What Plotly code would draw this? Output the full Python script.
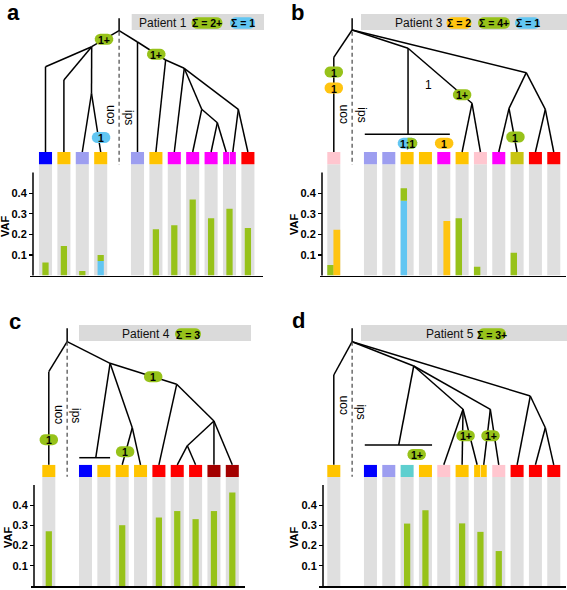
import numpy as np
import plotly.graph_objects as go

W, H = 567, 590
FONT = "Liberation Sans, Arial, sans-serif"
GREEN = "#97c21a"
BLUE = "#62c6f2"
ORANGE = "#ffc410"
GRAYCOL = "#dfdfdf"
BOXGRAY = "#dadada"
SQ = {"blue": "#0000ff", "orange": "#ffc400", "lav": "#9d9ef0", "mag": "#ff00ff",
      "red": "#ff0000", "pink": "#ffc6cf", "olive": "#c9c512", "teal": "#5ecfcf",
      "dred": "#a30000"}

# ---------------- data ----------------
a_cols = [0, 1, 2, 3, 5, 6, 7, 8, 9, 10, 11]
a_squares = ["blue", "orange", "lav", "orange", "lav", "orange", "mag", "mag", "mag", "mag", "red"]
a_split = [10]
a_green = [0.063, 0.144, 0.022, 0.100, 0, 0.225, 0.244, 0.370, 0.278, 0.325, 0.231]
a_blue = [0, 0, 0, 0.071, 0, 0, 0, 0, 0, 0, 0]

b_cols = [0, 2, 3, 4, 5, 6, 7, 8, 9, 10, 11, 12]
b_squares = ["pink", "lav", "lav", "orange", "orange", "mag", "orange", "pink", "mag", "olive", "red", "red"]
b_split = []
b_green = [0.051, 0, 0, 0.424, 0, 0, 0.278, 0.043, 0, 0.111, 0, 0]
b_blue = [0, 0, 0, 0.363, 0, 0, 0, 0, 0, 0, 0, 0]
b_orange = [0.222, 0, 0, 0, 0, 0.265, 0, 0, 0, 0, 0, 0]

c_cols = [0, 2, 3, 4, 5, 6, 7, 8, 9, 10]
c_squares = ["orange", "blue", "orange", "orange", "orange", "red", "red", "red", "dred", "dred"]
c_split = []
c_green = [0.271, 0, 0, 0.301, 0, 0.339, 0.371, 0.331, 0.371, 0.463]

d_cols = [0, 2, 3, 4, 5, 6, 7, 8, 9, 10, 11, 12]
d_squares = ["orange", "blue", "lav", "teal", "orange", "pink", "orange", "orange", "pink", "red", "red", "red"]
d_split = [8]
d_green = [0, 0, 0, 0.309, 0.375, 0, 0.310, 0.268, 0.173, 0, 0, 0]

yticks = [0.1, 0.2, 0.3, 0.4]
ytick_labels = ["0.1", "0.2", "0.3", "0.4"]

# trees: internal nodes (column, pixel height); numeric edge ends are leaves (column)
a_nodes = {"top": (4, 18.3), "R": (4, 30.7), "L1": (2.51, 46.7), "e0": (0, 66.7), "e1": (1, 80),
           "L2": (2.5, 93.3), "R0": (5, 42), "R1": (6.53, 60), "R2": (7.54, 68.3),
           "R3": (8.49, 109.3), "R5": (9.34, 122.7), "R4": (10.48, 109.3)}
a_edges = [("top", "R"), ("R", "L1"), ("L1", "e0"), ("e0", 0), ("L1", "e1"), ("e1", 1), ("L1", "L2"),
           ("L2", 2), ("L2", 3), ("R", "R0"), ("R0", 5), ("R0", "R1"), ("R1", 6), ("R1", "R2"),
           ("R2", 7), ("R2", "R3"), ("R2", "R4"), ("R3", 8), ("R3", "R5"), ("R5", 9), ("R5", 9.82),
           ("R4", 10.18), ("R4", 11)]
b_nodes = {"top": (1, 18.3), "R": (1, 30), "eL": (0, 57.3), "B1": (4.05, 48.3), "HB": (4.05, 134.3),
           "HBl": (1.69, 134.3), "HBr": (6.33, 134.3), "B3": (7.54, 103.3), "B2": (10.5, 72.7),
           "B4": (9.56, 108.3), "B5": (11.54, 109.3)}
b_edges = [("top", "R"), ("R", "eL"), ("eL", 0), ("R", "B1"), ("B1", "HB"), ("HBl", "HBr"),
           ("B1", "B3"), ("B3", 7), ("B3", 8), ("R", "B2"), ("B2", "B4"), ("B2", "B5"),
           ("B4", 9), ("B4", 10), ("B5", 11), ("B5", 12)]
c_nodes = {"top": (1, 328.3), "R": (1, 341.7), "eL": (0, 371.7), "C1": (3.34, 363.3),
           "HB": (2.56, 457.7), "HBl": (1.66, 457.7), "HBr": (3.34, 457.7), "C3": (4.55, 427.7),
           "C2": (6.97, 384.3), "C4": (9.0, 421), "C5": (7.55, 445.7)}
c_edges = [("top", "R"), ("R", "eL"), ("eL", 0), ("R", "C1"), ("C1", "HB"), ("HBl", "HBr"),
           ("C1", "C3"), ("C3", 4), ("C3", 5), ("C1", "C2"), ("C2", 6), ("C2", "C4"),
           ("C4", "C5"), ("C4", 9), ("C4", 10), ("C5", 7), ("C5", 8)]
d_nodes = {"top": (1, 328.3), "R": (1, 341.7), "eL": (0, 375), "D1": (4.36, 366), "D2": (10.72, 396),
           "HB": (3.54, 445), "HBl": (1.69, 445), "HBr": (5.36, 445), "D3": (7.05, 409.3),
           "D4": (8.54, 409.3), "D5": (11.54, 427.7)}
d_edges = [("top", "R"), ("R", "eL"), ("eL", 0), ("R", "D1"), ("R", "D2"), ("D1", "HB"), ("HBl", "HBr"),
           ("D1", "D3"), ("D1", "D4"), ("D3", 6), ("D3", 7), ("D3", 7.82), ("D4", 8.18), ("D4", 9),
           ("D2", 10), ("D2", "D5"), ("D5", 11), ("D5", 12)]

# badges on the trees: (column, height, text, colour)
a_badges = [(3.18, 39.3, "1+", "G"), (6.02, 54.2, "1+", "G"), (3.02, 137.5, "1", "B")]
b_badges = [(0, 72, "1", "G"), (0, 88, "1", "O"), (4.02, 143.3, "1;1", "BG"), (6.02, 143.3, "1", "O"),
            (7.0, 94.7, "1+", "G"), (9.91, 137, "1", "G")]
c_badges = [(0, 439.7, "1", "G"), (5.69, 376.7, "1", "G"), (4.16, 451.7, "1", "G")]
d_badges = [(4.52, 454.5, "1+", "G"), (7.19, 435.8, "1+", "G"), (8.55, 435.8, "1+", "G")]

patients = ["Patient 1", "Patient 3", "Patient 4", "Patient 5"]
patient_badges = [[("Σ = 2+", "G"), ("Σ = 1", "B")],
                  [("Σ = 2", "O"), ("Σ = 4+", "G"), ("Σ = 1", "B")],
                  [("Σ = 3", "G")],
                  [("Σ = 3+", "G")]]

# ---------------- layout geometry ----------------
PANELS = [
    dict(name="a", xpx=(30, 263), c0=45.5, sp=18.4, row=0, ypos=33, dash=(4, 31.7, 165),
         con=(3.53, 115), ips=(4.54, 117), vaf=(5, 227), letter=(13, 13),
         box=(131.7, 264, 14, 30), ptext=163, pb=[207, 242.5], pbw=[31, 25]),
    dict(name="b", xpx=(320, 566), c0=333.8, sp=18.33, row=0, ypos=322, dash=(1, 31.7, 165),
         con=(0.5, 114), ips=(1.52, 115), vaf=(294, 225), letter=(297, 13),
         box=(361, 567, 14, 30), ptext=419, pb=[459, 494, 527.5], pbw=[25, 32, 25]),
    dict(name="c", xpx=(31, 245), c0=48.8, sp=18.35, row=1, ypos=34, dash=(1, 341.7, 476.7),
         con=(0.52, 415), ips=(1.52, 415.7), vaf=(8, 538), letter=(15, 322),
         box=(79, 251, 325, 341), ptext=146, pb=[188], pbw=[26]),
    dict(name="d", xpx=(319, 566), c0=333.8, sp=18.33, row=1, ypos=323, dash=(1, 341.7, 476.7),
         con=(0.5, 405), ips=(1.5, 411.7), vaf=(294, 538), letter=(298, 320),
         box=(361, 567, 325, 341), ptext=450, pb=[492], pbw=[28]),
]
ROWS = [dict(zero=275.6, top=152.0, tree=(0, 295)), dict(zero=586.0, top=464.8, tree=(295, 590))]

COLS = [a_cols, b_cols, c_cols, d_cols]
SQUARES = [a_squares, b_squares, c_squares, d_squares]
SPLITS = [a_split, b_split, c_split, d_split]
NODES = [a_nodes, b_nodes, c_nodes, d_nodes]
EDGES = [a_edges, b_edges, c_edges, d_edges]
BADGES = [a_badges, b_badges, c_badges, d_badges]
BCOL = {"G": GREEN, "B": BLUE, "O": ORANGE}

fig = go.Figure()
shapes, annotations = [], []
layout = {}


def ann(**kw):
    kw.setdefault("xanchor", "center")
    kw.setdefault("yanchor", "middle")
    kw.setdefault("showarrow", False)
    annotations.append(kw)


def pill_pts(w, h, half=None):
    r = h / 2.0
    cx = max(w / 2.0 - r, 0)
    pts = []
    if half == "right":
        pts.append((0, -r))
    else:
        for t in np.linspace(90, 270, 10):
            th = np.radians(t)
            pts.append((-cx + r * np.cos(th), r * np.sin(th)))
    for t in np.linspace(-90, 90, 10):
        th = np.radians(t)
        pts.append((cx + r * np.cos(th), r * np.sin(th)))
    if half == "right":
        pts.append((0, r))
    return pts


def pill_path(xc, yc, w, h, fx, fy, half=None):
    pts = pill_pts(w, h, half)
    return "M " + " L ".join(f"{xc + fx(px):.5f},{yc + fy(py):.5f}" for px, py in pts) + " Z"


for k, P in enumerate(PANELS):
    sfx = "" if k == 0 else str(k + 1)
    xname, yname, tname = f"x{sfx}", f"y{sfx}", f"y{k + 5}"
    R = ROWS[P["row"]]
    x0, x1 = P["xpx"]
    c0, sp = P["c0"], P["sp"]
    layout[f"xaxis{sfx}"] = dict(domain=[x0 / W, x1 / W], range=[(x0 - c0) / sp, (x1 - c0) / sp],
                                 showline=True, linecolor="black", linewidth=1.5, showticklabels=False,
                                 ticks="", showgrid=False, zeroline=False, anchor=yname, fixedrange=True)
    layout[f"yaxis{sfx}"] = dict(domain=[1 - R["zero"] / H, 1 - R["top"] / H], range=[0, 0.6],
                                 anchor="free", position=P["ypos"] / W, tickvals=yticks,
                                 ticktext=ytick_labels, ticks="outside", ticklen=4, tickwidth=1.2,
                                 tickcolor="black", showline=False, showgrid=False, zeroline=False,
                                 tickfont=dict(size=11, family=FONT, color="black", weight="bold"),
                                 fixedrange=True)
    t0, t1 = R["tree"]
    layout[f"yaxis{k + 5}"] = dict(domain=[1 - t1 / H, 1 - t0 / H], range=[t1, t0], visible=False,
                                   anchor=xname, fixedrange=True)

    cols = COLS[k]
    sqc = SQUARES[k]
    split = SPLITS[k]
    n = len(cols)
    # grey columns
    fig.add_trace(go.Bar(x=cols, y=[0.54] * n, width=0.71, marker=dict(color=GRAYCOL, line_width=0),
                         xaxis=xname, yaxis=yname, hoverinfo="skip"))
    # sample squares
    sx = [c for c in cols if c not in split]
    sc = [SQ[col] for c, col in zip(cols, sqc) if c not in split]
    fig.add_trace(go.Bar(x=sx, y=[0.06] * len(sx), base=0.54, width=0.71,
                         marker=dict(color=sc, line_width=0), xaxis=xname, yaxis=yname, hoverinfo="skip"))
    for c, col in zip(cols, sqc):
        if c in split:
            fig.add_trace(go.Bar(x=[c - 0.18, c + 0.18], y=[0.06, 0.06], base=0.54, width=0.33,
                                 marker=dict(color=SQ[col], line_width=0), xaxis=xname, yaxis=yname,
                                 hoverinfo="skip"))
    # VAF bars
    if k == 0:
        blue, green = a_blue, a_green
    elif k == 1:
        blue, green = b_blue, b_green
    elif k == 2:
        blue, green = [0] * n, c_green
    else:
        blue, green = [0] * n, d_green
    boff = -0.355 if k == 1 else None
    bw = 0.35 if k == 1 else 0.34
    bx = [c for c, v in zip(cols, blue) if v > 0]
    by = [v for v in blue if v > 0]
    if bx:
        fig.add_trace(go.Bar(x=bx, y=by, width=bw, offset=boff, marker=dict(color=BLUE, line_width=0),
                             xaxis=xname, yaxis=yname, hoverinfo="skip"))
    gx = [c for c, v in zip(cols, green) if v > 0]
    gb = [b for b, v in zip(blue, green) if v > 0]
    gy = [v - b for b, v in zip(blue, green) if v > 0]
    fig.add_trace(go.Bar(x=gx, y=gy, base=gb, width=bw, offset=boff, marker=dict(color=GREEN, line_width=0),
                         xaxis=xname, yaxis=yname, hoverinfo="skip"))
    if k == 1:
        ox = [c for c, v in zip(cols, b_orange) if v > 0]
        oy = [v for v in b_orange if v > 0]
        fig.add_trace(go.Bar(x=ox, y=oy, width=0.37, offset=-0.02, marker=dict(color=ORANGE, line_width=0),
                             xaxis=xname, yaxis=yname, hoverinfo="skip"))

    # y axis line
    shapes.append(dict(type="line", xref="paper", yref=yname, x0=P["ypos"] / W, x1=P["ypos"] / W,
                       y0=-0.012, y1=0.5, line=dict(color="black", width=1.5)))

    # tree lines
    nodes = NODES[k]
    stop = R["top"]
    lx, ly = [], []
    for p, q in EDGES[k]:
        a = nodes[p] if isinstance(p, str) else (p, stop)
        b = nodes[q] if isinstance(q, str) else (q, stop)
        lx += [a[0], b[0], None]
        ly += [a[1], b[1], None]
    fig.add_trace(go.Scatter(x=lx, y=ly, mode="lines", line=dict(color="black", width=1.5),
                             xaxis=xname, yaxis=tname, hoverinfo="skip", cliponaxis=False))
    # dashed separator
    dc, dy0, dy1 = P["dash"]
    fig.add_trace(go.Scatter(x=[dc, dc], y=[dy0, dy1], mode="lines",
                             line=dict(color="#555555", width=1.3, dash="4px,3px"),
                             xaxis=xname, yaxis=tname, hoverinfo="skip", cliponaxis=False))
    # con / ips (baselines facing the dashed separator)
    for key, ang in (("con", -90), ("ips", 90)):
        cx, cy = P[key]
        ann(x=cx, y=cy, xref=xname, yref=tname, text=key, textangle=ang,
            font=dict(size=12, family=FONT, color="black"))

    # badges on tree
    fx = lambda px, sp=sp: px / sp
    fy = lambda py: py
    for bc, by_, txt, colr in BADGES[k]:
        w = 18.5 if len(txt) <= 2 else 19.5
        if colr == "BG":
            shapes.append(dict(type="path", xref=xname, yref=tname, path=pill_path(bc, by_, w, 11, fx, fy),
                               fillcolor=BLUE, line_width=0))
            shapes.append(dict(type="path", xref=xname, yref=tname,
                               path=pill_path(bc, by_, w, 11, fx, fy, half="right"),
                               fillcolor=GREEN, line_width=0))
        else:
            shapes.append(dict(type="path", xref=xname, yref=tname, path=pill_path(bc, by_, w, 11, fx, fy),
                               fillcolor=BCOL[colr], line_width=0))
        ann(x=bc, y=by_ + 0.5, xref=xname, yref=tname, text=f"<b>{txt}</b>",
            font=dict(size=10.5, family=FONT, color="black"))

    # patient box
    bx0, bx1, by0, by1 = P["box"]
    shapes.append(dict(type="rect", xref="paper", yref="paper", x0=bx0 / W, x1=bx1 / W,
                       y0=1 - by1 / H, y1=1 - by0 / H, fillcolor=BOXGRAY, line_width=0, layer="below"))
    ymid = (by0 + by1) / 2
    ann(x=P["ptext"] / W, y=1 - (ymid + 0.5) / H, xref="paper", yref="paper", text=patients[k],
        font=dict(size=12, family=FONT, color="#111111"))
    pfx = lambda px: px / W
    pfy = lambda py: -py / H
    for (txt, colr), cxp, wp in zip(patient_badges[k], P["pb"], P["pbw"]):
        shapes.append(dict(type="path", xref="paper", yref="paper",
                           path=pill_path(cxp / W, 1 - (ymid + 1) / H, wp, 11.5, pfx, pfy),
                           fillcolor=BCOL[colr], line_width=0))
        ann(x=cxp / W, y=1 - (ymid + 1.5) / H, xref="paper", yref="paper", text=f"<b>{txt}</b>",
            font=dict(size=10.5, family=FONT, color="black"))

    # VAF title and panel letter
    vx, vy = P["vaf"]
    ann(x=vx / W, y=1 - vy / H, xref="paper", yref="paper", text="<b>VAF</b>", textangle=-90,
        font=dict(size=11, family=FONT, color="black"))
    lxp, lyp = P["letter"]
    ann(x=lxp / W, y=1 - lyp / H, xref="paper", yref="paper", text=f"<b>{P['name']}</b>",
        font=dict(size=22, family=FONT, color="black"))

# plain label in panel b
ann(x=5.14, y=85, xref="x2", yref="y6", text="1", font=dict(size=12, family=FONT, color="black"))

fig.update_layout(width=W, height=H, margin=dict(l=0, r=0, t=0, b=0), showlegend=False,
                  barmode="overlay", paper_bgcolor="white", plot_bgcolor="rgba(0,0,0,0)",
                  shapes=shapes, annotations=annotations, **layout)
fig.write_html("out.html", config={"displayModeBar": False, "staticPlot": True},
               post_script="document.body.style.margin='0';document.body.style.padding='0';")
